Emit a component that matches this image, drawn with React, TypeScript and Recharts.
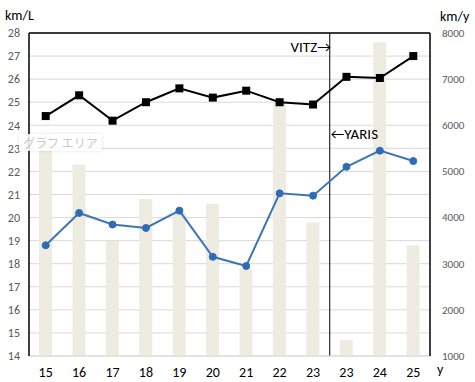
import { ComposedChart, Bar, Line, XAxis, YAxis, CartesianGrid, ReferenceLine } from 'recharts'

const years = ['15', '16', '17', '18', '19', '20', '21', '22', '23', '23', '24', '25']
const distance = [5800, 5150, 3500, 4400, 4100, 4300, 2900, 6500, 3900, 1350, 7800, 3400]
const fuelBlack = [24.4, 25.3, 24.2, 25.0, 25.6, 25.2, 25.5, 25.0, 24.9, 26.1, 26.05, 27.0]
const fuelBlue = [18.8, 20.2, 19.7, 19.55, 20.3, 18.3, 17.9, 21.05, 20.95, 22.2, 22.9, 22.45]
const leftTicks = [14, 15, 16, 17, 18, 19, 20, 21, 22, 23, 24, 25, 26, 27, 28]
const rightTicks = [1000, 2000, 3000, 4000, 5000, 6000, 7000, 8000]
// last Vitz year; the Yaris starts in the next column
const switchKey = '23-8'

const data = years.map((y, i) => ({
  key: `${y}-${i}`,
  label: y,
  distance: distance[i],
  black: fuelBlack[i],
  blue: fuelBlue[i],
}))

const FONT = 'Calibri, "Open Sans", "Liberation Sans", Arial, sans-serif'

function SquareDot(props: { cx?: number; cy?: number }) {
  const { cx, cy } = props
  if (cx == null || cy == null) return null
  return <rect x={cx - 4} y={cy - 4} width={8} height={8} fill="#000" />
}

export default function App() {
  return (
    <div style={{ position: 'absolute', left: 0, top: 0, width: 475, height: 382, background: '#fff', fontFamily: FONT }}>
      <ComposedChart width={475} height={382} data={data} margin={{ top: 33, right: 0, bottom: 0, left: 0 }}>
        <CartesianGrid yAxisId="left" vertical={false} stroke="#d9d9d9" />
        <XAxis
          dataKey="key"
          tickFormatter={(_, i) => years[i]}
          height={26}
          axisLine={{ stroke: '#d9d9d9' }}
          tickLine={false}
          tick={{ fill: '#000', fontSize: 14, fontFamily: FONT }}
          tickMargin={5}
          interval={0}
        />
        <YAxis
          yAxisId="left"
          domain={[14, 28]}
          ticks={leftTicks}
          interval={0}
          width={29}
          axisLine={{ stroke: '#000', strokeWidth: 1.5 }}
          tickLine={false}
          tickSize={0}
          tickMargin={9}
          tick={{ fill: '#595959', fontSize: 12, fontFamily: FONT }}
        />
        <YAxis
          yAxisId="right"
          orientation="right"
          domain={[1000, 8000]}
          ticks={rightTicks}
          interval={0}
          width={45}
          axisLine={{ stroke: '#000', strokeWidth: 1.5 }}
          tickLine={false}
          tickSize={0}
          tickMargin={12}
          tick={{ fill: '#595959', fontSize: 11, fontFamily: FONT }}
        />
        <ReferenceLine yAxisId="left" y={28} stroke="#000" strokeWidth={1.5} />
        <Bar yAxisId="right" dataKey="distance" fill="#eeece1" barSize={13} isAnimationActive={false} />
        <ReferenceLine
          yAxisId="left"
          x={switchKey}
          position="end"
          stroke="#000"
          strokeWidth={1}
          label={{ value: 'VITZ→', position: 'insideTopRight', offset: 0, dx: 1, dy: 8, fill: '#000', fontSize: 15, fontFamily: FONT }}
        />
        <ReferenceLine
          yAxisId="left"
          x={switchKey}
          position="end"
          stroke="none"
          label={{ value: '←YARIS', position: 'insideTopLeft', offset: 0, dx: 1, dy: 95, fill: '#000', fontSize: 15, fontFamily: FONT }}
        />
        <Line
          yAxisId="left"
          dataKey="black"
          stroke="#000"
          strokeWidth={2}
          dot={<SquareDot />}
          activeDot={false}
          isAnimationActive={false}
        />
        <Line
          yAxisId="left"
          dataKey="blue"
          stroke="#3f75b7"
          strokeWidth={2}
          dot={{ r: 3.5, fill: '#2e6db5', stroke: '#2e6db5', strokeWidth: 1 }}
          activeDot={false}
          isAnimationActive={false}
        />
      </ComposedChart>
      <div style={{ position: 'absolute', left: 5, top: 7, fontSize: 14, color: '#000' }}>km/L</div>
      <div style={{ position: 'absolute', left: 440, top: 8, fontSize: 14, color: '#000' }}>km/y</div>
      <div style={{ position: 'absolute', left: 437, top: 361, fontSize: 14, color: '#000' }}>y</div>
      <div
        style={{
          position: 'absolute',
          left: 19,
          top: 134,
          padding: '0px 4px',
          fontSize: 12,
          color: '#c8c8c8',
          background: 'rgba(255,255,255,0.85)',
          boxShadow: '0 0 3px rgba(0,0,0,0.12)',
          fontFamily: '"Noto Sans CJK JP", sans-serif',
        }}
      >
        グラフ エリア
      </div>
    </div>
  )
}
